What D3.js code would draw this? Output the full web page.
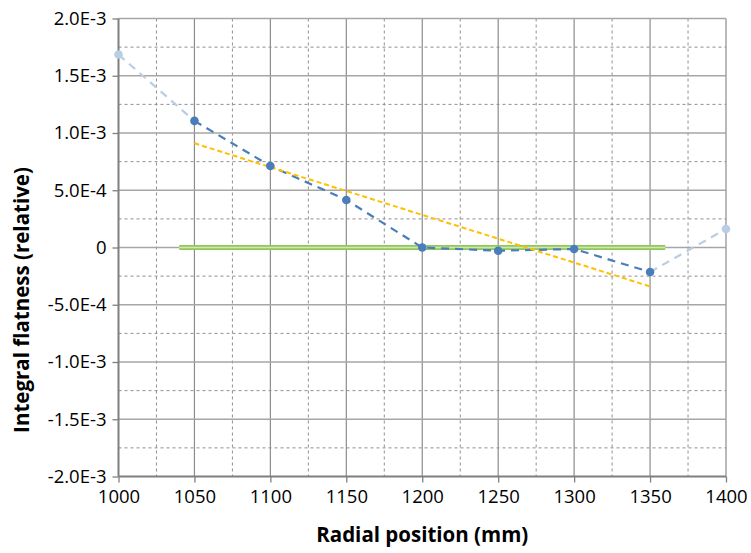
<!DOCTYPE html>
<html>
<head>
<meta charset="utf-8">
<script src="https://cdn.jsdelivr.net/npm/d3@7"></script>
<style>
  body { margin: 0; background: #fff; }
  text { font-family: "Open Sans", "Noto Sans", sans-serif; fill: #000; }
</style>
</head>
<body>
<svg id="canvas" width="751" height="553"></svg>
<script>
// measured points (mm, relative flatness)
let radius = [1050, 1100, 1150, 1200, 1250, 1300, 1350]
let flatness = [1.106e-3, 7.12e-4, 4.15e-4, 0.0, -2.8e-5, -1.3e-5, -2.14e-4]

// extrapolated end points (light blue)
let edgeRadius = [1000, 1050, 1350, 1400]
let edgeFlatness = [1.685e-3, 1.106e-3, -2.14e-4, 1.62e-4]

// linear trend (yellow)
let trendRadius = [1050, 1350]
let trendFlatness = [9.1e-4, -3.4e-4]

// zero reference (green)
let zeroRadius = [1040, 1360]
let zeroFlatness = [0, 0]

let xTicks = [1000, 1050, 1100, 1150, 1200, 1250, 1300, 1350, 1400]
let yTicks = [2e-3, 1.5e-3, 1e-3, 5e-4, 0, -5e-4, -1e-3, -1.5e-3, -2e-3]
let yTickLabels = ['2.0E-3', '1.5E-3', '1.0E-3', '5.0E-4', '0', '-5.0E-4', '-1.0E-3', '-1.5E-3', '-2.0E-3']

let canvas = d3.select('#canvas')

let plotLeft = 118.5, plotRight = 726, plotTop = 18.5, plotBottom = 476.5

let xScale = d3.scaleLinear().domain([1000, 1400]).range([plotLeft, plotRight])
let yScale = d3.scaleLinear().domain([-2e-3, 2e-3]).range([plotBottom, plotTop])

let grid = canvas.append('g')

// minor dashed grid
let xMinor = d3.range(1025, 1400, 50)
let yMinor = d3.range(-1.75e-3, 1.8e-3, 5e-4)
grid.selectAll('.xminor').data(xMinor).enter().append('line')
    .attr('x1', d => xScale(d)).attr('x2', d => xScale(d))
    .attr('y1', plotTop).attr('y2', plotBottom)
    .attr('stroke', '#8f8f8f').attr('stroke-dasharray', '3,3')
grid.selectAll('.yminor').data(yMinor).enter().append('line')
    .attr('x1', plotLeft).attr('x2', plotRight)
    .attr('y1', d => yScale(d)).attr('y2', d => yScale(d))
    .attr('stroke', '#8f8f8f').attr('stroke-dasharray', '3,3')

// major grid
grid.selectAll('.xmajor').data(xTicks.slice(1)).enter().append('line')
    .attr('x1', d => xScale(d)).attr('x2', d => xScale(d))
    .attr('y1', plotTop).attr('y2', plotBottom)
    .attr('stroke', '#8c8c8c').attr('stroke-width', 1.2)
grid.selectAll('.ymajor').data(yTicks.slice(0, -1)).enter().append('line')
    .attr('x1', plotLeft).attr('x2', plotRight)
    .attr('y1', d => yScale(d)).attr('y2', d => yScale(d))
    .attr('stroke', '#a6a6a6').attr('stroke-width', 1.3)

// axes
let xAxis = d3.axisBottom(xScale).tickValues(xTicks).tickSize(6).tickPadding(7)
    .tickFormat(d3.format('d'))
let yAxis = d3.axisLeft(yScale).tickValues(yTicks).tickSize(6).tickPadding(6)
    .tickFormat((d, i) => yTickLabels[i])

let gx = canvas.append('g').attr('transform', 'translate(0,' + plotBottom + ')').call(xAxis)
let gy = canvas.append('g').attr('transform', 'translate(' + plotLeft + ',0)').call(yAxis)

for (let g of [gx, gy]) {
    g.select('.domain').attr('stroke', '#7f7f7f').attr('stroke-width', 2)
    g.selectAll('.tick line').attr('stroke', '#7f7f7f').attr('stroke-width', 1.3)
    g.selectAll('.tick text').style('font-size', '18.5px').style('font-family', '"Open Sans", sans-serif').attr('fill', '#000')
}
gx.select('.domain').attr('d', 'M' + plotLeft + ',0H' + plotRight)
gy.select('.domain').attr('d', 'M0,' + plotTop + 'V' + plotBottom)

let line = d3.line().x(d => xScale(d[0])).y(d => yScale(d[1]))

// green zero reference
let zeroData = d3.zip(zeroRadius, zeroFlatness)
canvas.append('path').datum(zeroData).attr('d', line)
    .attr('fill', 'none').attr('stroke', '#92c85a').attr('stroke-width', 5)
canvas.append('path').datum(zeroData).attr('d', line)
    .attr('fill', 'none').attr('stroke', '#cfe6b8').attr('stroke-width', 1.6)

// light blue extrapolated segments
let edges = [d3.zip(edgeRadius.slice(0, 2), edgeFlatness.slice(0, 2)),
             d3.zip(edgeRadius.slice(2), edgeFlatness.slice(2))]
canvas.selectAll('.edge').data(edges).enter().append('path')
    .attr('d', line).attr('fill', 'none')
    .attr('stroke', '#b9cde5').attr('stroke-width', 2.2).attr('stroke-dasharray', '8,6')
canvas.selectAll('.edgept').data([[edgeRadius[0], edgeFlatness[0]], [edgeRadius[3], edgeFlatness[3]]])
    .enter().append('circle')
    .attr('cx', d => xScale(d[0])).attr('cy', d => yScale(d[1])).attr('r', 4.3)
    .attr('fill', '#b9cde5')

// blue measured line
let measured = d3.zip(radius, flatness)
canvas.append('path').datum(measured).attr('d', line)
    .attr('fill', 'none').attr('stroke', '#4a7ebb').attr('stroke-width', 2.2).attr('stroke-dasharray', '8,6')

// yellow trend
canvas.append('path').datum(d3.zip(trendRadius, trendFlatness)).attr('d', line)
    .attr('fill', 'none').attr('stroke', '#ffc000').attr('stroke-width', 2).attr('stroke-dasharray', '5,3')

canvas.selectAll('.pt').data(measured).enter().append('circle')
    .attr('cx', d => xScale(d[0])).attr('cy', d => yScale(d[1])).attr('r', 4.3)
    .attr('fill', '#4a7ebb')

// axis titles
canvas.append('text').attr('x', (plotLeft + plotRight) / 2).attr('y', 542)
    .attr('text-anchor', 'middle').style('font-size', '20.5px').style('font-weight', 'bold')
    .text('Radial position (mm)')
canvas.append('text').attr('transform', 'translate(29,300) rotate(-90)')
    .attr('text-anchor', 'middle').style('font-size', '20.5px').style('font-weight', 'bold')
    .text('Integral flatness (relative)')
</script>
</body>
</html>
